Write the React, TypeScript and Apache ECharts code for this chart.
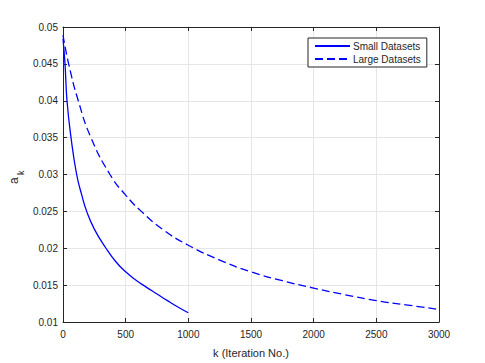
import React, { useEffect, useRef } from "react";
import * as echarts from "echarts";

const smallK = [0, 16, 32, 64, 109, 150, 189, 250, 343, 420, 500, 580, 667, 750, 833, 920, 1000];
const smallA = [0.0484, 0.045, 0.040, 0.035, 0.030, 0.0272, 0.025, 0.0226, 0.020, 0.0182, 0.0168, 0.0157, 0.0147, 0.0138, 0.0129, 0.0120, 0.01125];

const largeK = [0, 45, 122, 223, 375, 500, 625, 800, 1000, 1250, 1500, 1750, 2000, 2250, 2500, 2750, 3000];
const largeA = [0.0489, 0.045, 0.040, 0.035, 0.030, 0.0272, 0.025, 0.0225, 0.0204, 0.0184, 0.0168, 0.0156, 0.0146, 0.0137, 0.0129, 0.0123, 0.0117];

const seriesNames = ["Small Datasets", "Large Datasets"];
const xTitle = "k (Iteration No.)";

const FONT = "'Liberation Sans', Arial, Helvetica, sans-serif";
const AXIS_COLOR = "#262626";
const GRID_COLOR = "#e6e6e6";

export default function App() {
  const ref = useRef<HTMLDivElement>(null);
  useEffect(() => {
    if (!ref.current) return;
    const chart = echarts.init(ref.current, undefined, { renderer: "svg" });
    const xCommon = {
      type: "value" as const,
      min: 0,
      max: 3000,
      interval: 500,
      axisLine: { show: true, onZero: false, lineStyle: { color: AXIS_COLOR, width: 1 } },
      axisTick: { show: true, inside: true, length: 4, lineStyle: { color: AXIS_COLOR } },
    };
    const yCommon = {
      type: "value" as const,
      min: 0.01,
      max: 0.05,
      interval: 0.005,
      axisLine: { show: true, onZero: false, lineStyle: { color: AXIS_COLOR, width: 1 } },
      axisTick: { show: true, inside: true, length: 4, lineStyle: { color: AXIS_COLOR } },
    };
    chart.setOption({
      animation: false,
      backgroundColor: "#ffffff",
      textStyle: { fontFamily: FONT },
      grid: { left: 63, top: 27, right: 46, bottom: 40, containLabel: false },
      legend: {
        orient: "vertical",
        left: 308,
        top: 38,
        data: seriesNames,
        backgroundColor: "#ffffff",
        borderColor: AXIS_COLOR,
        borderWidth: 1,
        borderRadius: 0,
        padding: [3, 6, 3, 6],
        itemGap: 3,
        itemWidth: 35,
        itemHeight: 12,
        itemStyle: { opacity: 0 },
        textStyle: { fontFamily: FONT, fontSize: 10, color: AXIS_COLOR, padding: [0, 0, 0, -2] },
      },
      xAxis: [
        {
          ...xCommon,
          position: "bottom",
          name: xTitle,
          nameLocation: "middle",
          nameGap: 25,
          nameTextStyle: { fontFamily: FONT, fontSize: 11, color: AXIS_COLOR },
          axisLabel: {
            fontFamily: FONT,
            fontSize: 10,
            color: AXIS_COLOR,
            margin: 7,
            formatter: (v: number) => String(v),
          },
          splitLine: { show: true, lineStyle: { color: GRID_COLOR, width: 1 } },
        },
        {
          ...xCommon,
          position: "top",
          axisLabel: { show: false },
          splitLine: { show: false },
        },
      ],
      yAxis: [
        {
          ...yCommon,
          position: "left",
          axisLabel: {
            fontFamily: FONT,
            fontSize: 10,
            color: AXIS_COLOR,
            margin: 5,
            formatter: (v: number) => parseFloat(v.toFixed(4)).toString(),
          },
          splitLine: { show: true, lineStyle: { color: GRID_COLOR, width: 1 } },
        },
        {
          ...yCommon,
          position: "right",
          axisLabel: { show: false },
          splitLine: { show: false },
        },
      ],
      graphic: [
        {
          type: "text",
          x: 8,
          y: 184,
          rotation: Math.PI / 2,
          style: { text: "a", font: `12px ${FONT}`, fill: AXIS_COLOR },
        },
        {
          type: "text",
          x: 16,
          y: 175,
          rotation: Math.PI / 2,
          style: { text: "k", font: `9px ${FONT}`, fill: AXIS_COLOR },
        },
      ],
      series: [
        {
          name: seriesNames[0],
          type: "line",
          xAxisIndex: 0,
          yAxisIndex: 0,
          data: smallK.map((k, i) => [k, smallA[i]]),
          smooth: 0.5,
          symbol: "none",
          lineStyle: { color: "#0000ff", width: 1.3, type: "solid" },
          itemStyle: { color: "#0000ff" },
        },
        {
          name: seriesNames[1],
          type: "line",
          xAxisIndex: 0,
          yAxisIndex: 0,
          data: largeK.map((k, i) => [k, largeA[i]]),
          smooth: 0.5,
          symbol: "none",
          lineStyle: { color: "#0000ff", width: 1.3, type: [8, 4] },
          itemStyle: { color: "#0000ff" },
        },
      ],
    });
    return () => chart.dispose();
  }, []);
  return (
    <div
      ref={ref}
      style={{ position: "fixed", left: 0, top: 0, width: 485, height: 363, background: "#fff" }}
    />
  );
}
